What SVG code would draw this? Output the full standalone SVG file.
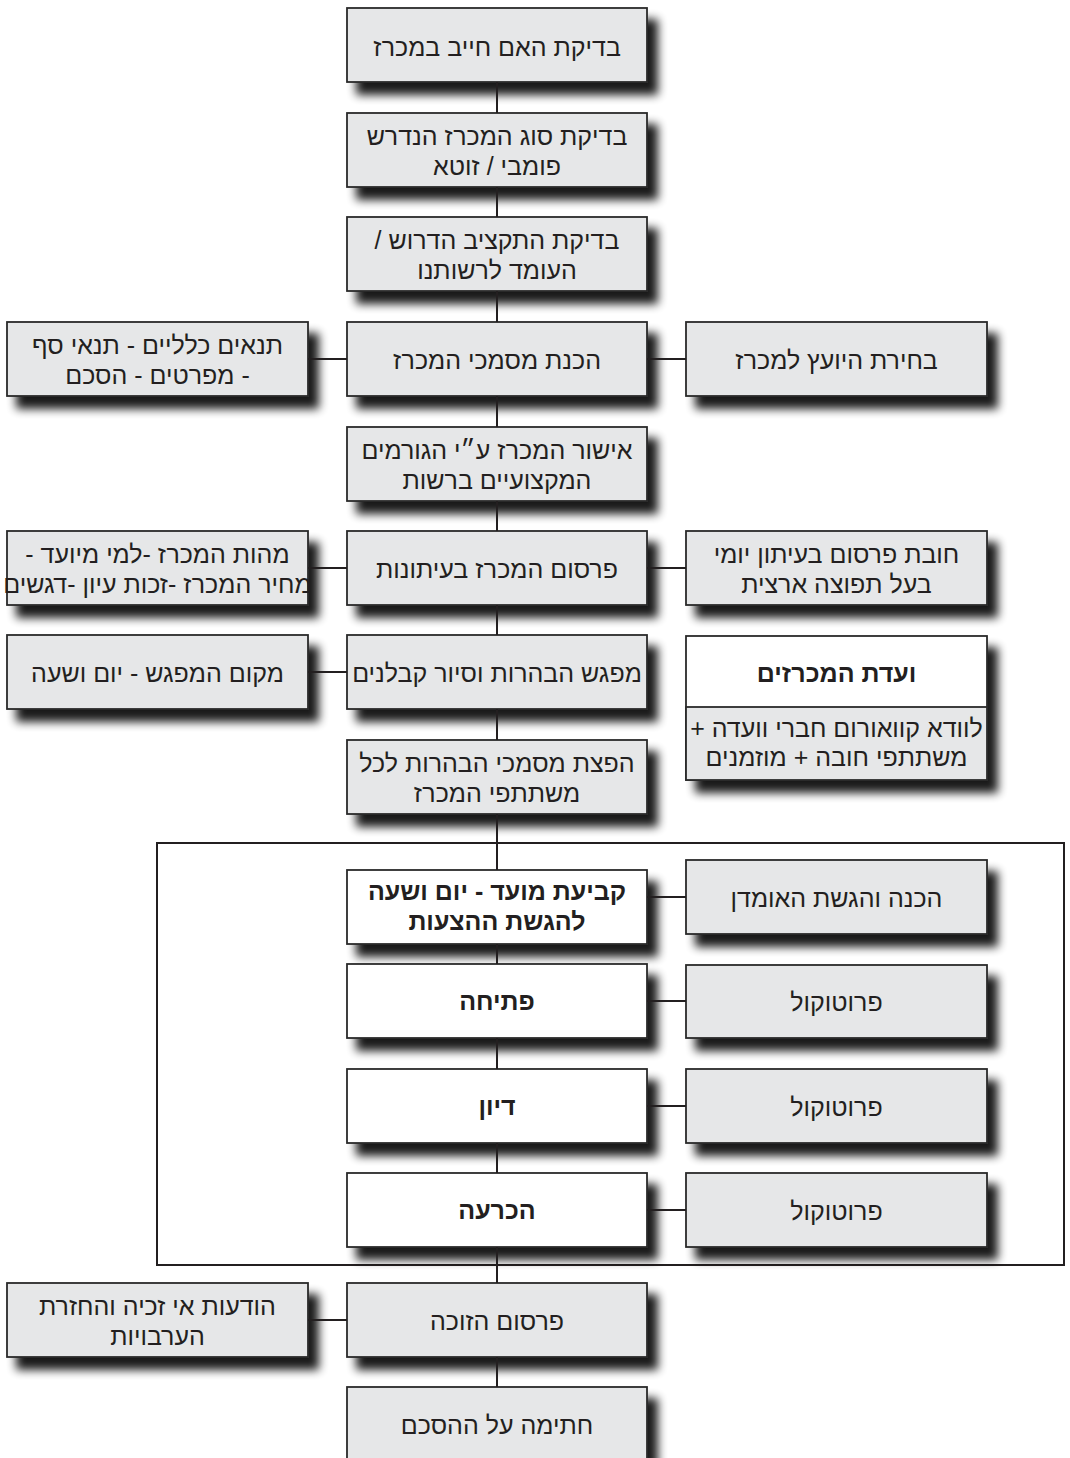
<svg xmlns="http://www.w3.org/2000/svg" width="1070" height="1458" viewBox="0 0 1070 1458">
<defs>
<filter id="sh" x="-10%" y="-20%" width="130%" height="180%">
<feGaussianBlur in="SourceAlpha" stdDeviation="5"/>
<feOffset dx="10" dy="12" result="o"/>
<feComponentTransfer><feFuncA type="linear" slope="0.9"/></feComponentTransfer>
<feMerge><feMergeNode/><feMergeNode in="SourceGraphic"/></feMerge>
</filter>
<style>
.g{fill:#e6e7e8;stroke:#2b2b2b;stroke-width:1.8;filter:url(#sh)}
.w{fill:#ffffff;stroke:#2b2b2b;stroke-width:1.8;filter:url(#sh)}
.p{fill:#e6e7e8;stroke:#2b2b2b;stroke-width:1.8}
.t{font-family:"Liberation Sans","DejaVu Sans",sans-serif;font-size:25px;fill:#231f20;text-anchor:middle;direction:rtl}
.b{font-weight:bold;font-size:25px}
.c{stroke:#231f20;stroke-width:2;fill:none}
</style>
</defs>
<rect width="1070" height="1458" fill="#ffffff"/>
<rect class="c" x="157" y="843" width="907" height="422"/>

<g id="n1"><rect class="g" x="347" y="8" width="300" height="74"/><text class="t" x="497" y="56">בדיקת האם חייב במכרז</text></g>
<g id="n2"><rect class="g" x="347" y="113" width="300" height="74"/><text class="t" x="497" y="145">בדיקת סוג המכרז הנדרש</text><text class="t" x="497" y="175">פומבי / זוטא</text></g>
<g id="n3"><rect class="g" x="347" y="217" width="300" height="74"/><text class="t" x="497" y="249">בדיקת התקציב הדרוש /</text><text class="t" x="497" y="279">העומד לרשותנו</text></g>
<g id="n4"><rect class="g" x="347" y="322" width="300" height="74"/><text class="t" x="497" y="369">הכנת מסמכי המכרז</text></g>
<g id="n4l"><rect class="g" x="7" y="322" width="301" height="74"/><text class="t" x="157.5" y="354">תנאים כלליים - תנאי סף</text><text class="t" x="157.5" y="384">- מפרטים - הסכם</text></g>
<g id="n4r"><rect class="g" x="686" y="322" width="301" height="74"/><text class="t" x="836.5" y="369">בחירת היועץ למכרז</text></g>
<g id="n5"><rect class="g" x="347" y="427" width="300" height="74"/><text class="t" x="497" y="459">אישור המכרז ע״י הגורמים</text><text class="t" x="497" y="489">המקצועיים ברשות</text></g>
<g id="n6"><rect class="g" x="347" y="531" width="300" height="74"/><text class="t" x="497" y="578">פרסום המכרז בעיתונות</text></g>
<g id="n6l"><rect class="g" x="7" y="531" width="301" height="74"/><text class="t" x="157.5" y="563">מהות המכרז -למי מיועד -</text><text class="t" x="157.5" y="593">מחיר המכרז -זכות עיון -דגשים</text></g>
<g id="n6r"><rect class="g" x="686" y="531" width="301" height="74"/><text class="t" x="836.5" y="563">חובת פרסום בעיתון יומי</text><text class="t" x="836.5" y="593">בעל תפוצה ארצית</text></g>
<g id="n7"><rect class="g" x="347" y="635" width="300" height="74"/><text class="t" x="497" y="682">מפגש הבהרות וסיור קבלנים</text></g>
<g id="n7l"><rect class="g" x="7" y="635" width="301" height="74"/><text class="t" x="157.5" y="682">מקום המפגש - יום ושעה</text></g>
<g id="n7r"><rect class="w" x="686" y="636" width="301" height="144"/><rect class="p" x="686" y="707" width="301" height="73"/><text class="t b" x="836.5" y="682">ועדת המכרזים</text><text class="t" x="836.5" y="737">לוודא קוואורום חברי וועדה +</text><text class="t" x="836.5" y="766">משתתפי חובה + מוזמנים</text></g>
<g id="n8"><rect class="g" x="347" y="740" width="300" height="74"/><text class="t" x="497" y="772">הפצת מסמכי הבהרות לכל</text><text class="t" x="497" y="802">משתתפי המכרז</text></g>
<g id="n9"><rect class="w" x="347" y="870" width="300" height="74"/><text class="t b" x="497" y="900">קביעת מועד - יום ושעה</text><text class="t b" x="497" y="930">להגשת ההצעות</text></g>
<g id="n9r"><rect class="g" x="686" y="860" width="301" height="74"/><text class="t" x="836.5" y="907">הכנה והגשת האומדן</text></g>
<g id="n10"><rect class="w" x="347" y="964" width="300" height="74"/><text class="t b" x="497" y="1010">פתיחה</text></g>
<g id="n10r"><rect class="g" x="686" y="965" width="301" height="73"/><text class="t" x="836.5" y="1011">פרוטוקול</text></g>
<g id="n11"><rect class="w" x="347" y="1069" width="300" height="74"/><text class="t b" x="497" y="1115">דיון</text></g>
<g id="n11r"><rect class="g" x="686" y="1069" width="301" height="74"/><text class="t" x="836.5" y="1116">פרוטוקול</text></g>
<g id="n12"><rect class="w" x="347" y="1173" width="300" height="74"/><text class="t b" x="497" y="1219">הכרעה</text></g>
<g id="n12r"><rect class="g" x="686" y="1173" width="301" height="74"/><text class="t" x="836.5" y="1220">פרוטוקול</text></g>
<g id="n13"><rect class="g" x="347" y="1283" width="300" height="74"/><text class="t" x="497" y="1330">פרסום הזוכה</text></g>
<g id="n13l"><rect class="g" x="7" y="1283" width="301" height="74"/><text class="t" x="157.5" y="1315">הודעות אי זכיה והחזרת</text><text class="t" x="157.5" y="1345">הערבויות</text></g>
<g id="n14"><rect class="g" x="347" y="1387" width="300" height="74"/><text class="t" x="497" y="1434">חתימה על ההסכם</text></g>

<g id="connectors" class="c">
<path d="M497 82V113M497 187V217M497 291V322M497 396V427M497 501V531M497 605V635M497 709V740M497 814V870M497 944V964M497 1038V1069M497 1143V1173M497 1247V1283M497 1357V1387"/>
<path d="M308 359H347M647 359H686M308 568H347M647 568H686M308 672H347M647 897H686M647 1001H686M647 1106H686M647 1210H686M308 1320H347"/>
</g>
</svg>
